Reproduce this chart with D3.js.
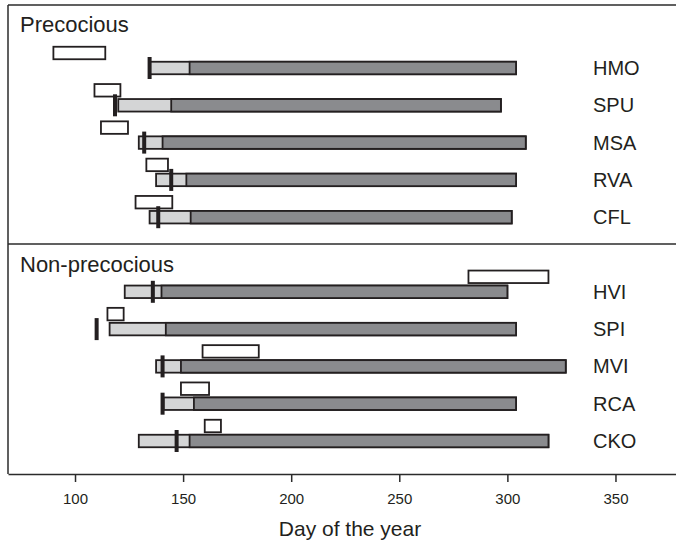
<!DOCTYPE html>
<html>
<head>
<meta charset="utf-8">
<script src="https://cdn.jsdelivr.net/npm/d3@7"></script>
<style>
  body { margin:0; background:#fff; }
  text { font-family: "Liberation Sans", Arial, sans-serif; fill:#231f20; }
</style>
</head>
<body>
<div id="vis-container"></div>
<script>
//data (day of the year)
let species    = ["HMO","SPU","MSA","RVA","CFL","HVI","SPI","MVI","RCA","CKO"];
let groups     = ["Precocious","Non-precocious"];
let slot       = [0,1,2,3,4,6,7,8,9,10];   //row index, one empty row between groups
let boxStart   = [90, 109, 112, 133, 128, 282, 115, 159, 149, 160];
let boxEnd     = [114, 121, 124.5, 143, 145, 319, 122.5, 185, 162, 167.5];
let lightStart = [134.5, 120, 129.5, 137.5, 134.5, 123, 116, 137.5, 141, 129.5];
let darkStart  = [153, 144.5, 140.5, 151.5, 153.5, 140, 142, 149, 155, 153];
let endDay     = [304, 297, 308.5, 304, 302, 300, 304, 327, 304, 319];
let tickDay    = [134.5, 118.5, 132, 144.5, 138.5, 136, 110, 140.5, 140.5, 147];
let xTicks     = [100,150,200,250,300,350];

let width = 676, height = 544;

let svg = d3.select("#vis-container")
  .append("svg")
  .attr("width", width)
  .attr("height", height);

//scales
let x = d3.scaleLinear()
  .domain([69, 378])
  .range([8, 676]);

let y = d3.scaleLinear()
  .domain([0, 10])
  .range([68, 441]);

let barH = 12.5;

let data = species.map((s,i)=>({
  name:s, slot:slot[i], b0:boxStart[i], b1:boxEnd[i],
  l:lightStart[i], d:darkStart[i], e:endDay[i], t:tickDay[i]
}));

//frame lines
let frame = svg.append("g")
  .attr("stroke", "#2b2b2b")
  .attr("stroke-width", 1.5);

frame.append("line").attr("x1",8).attr("x2",width).attr("y1",5).attr("y2",5);
frame.append("line").attr("x1",8).attr("x2",width).attr("y1",244).attr("y2",244);
frame.append("line").attr("x1",8).attr("x2",8).attr("y1",5).attr("y2",474);

//group titles
svg.selectAll(".group-label")
  .data(groups)
  .enter()
  .append("text")
  .attr("class","group-label")
  .attr("x", 20)
  .attr("y", (d,i)=>{return i==0 ? 32 : 272;})
  .attr("font-size","22px")
  .text(d=>d);

let rows = svg.selectAll(".row")
  .data(data)
  .enter()
  .append("g")
  .attr("class","row")
  .attr("transform", d=>`translate(0,${y(d.slot)})`);

//white boxes above bars
rows.append("rect")
  .attr("x", d=>x(d.b0))
  .attr("y", -15 - barH/2)
  .attr("width", d=>x(d.b1)-x(d.b0))
  .attr("height", barH)
  .attr("fill","#fff")
  .attr("stroke","#231f20")
  .attr("stroke-width",1.8);

//light part (whole bar)
rows.append("rect")
  .attr("x", d=>x(d.l))
  .attr("y", -barH/2)
  .attr("width", d=>x(d.e)-x(d.l))
  .attr("height", barH)
  .attr("fill","#d4d5d6")
  .attr("stroke","#231f20")
  .attr("stroke-width",1.8);

//dark part
rows.append("rect")
  .attr("x", d=>x(d.d))
  .attr("y", -barH/2)
  .attr("width", d=>x(d.e)-x(d.d))
  .attr("height", barH)
  .attr("fill","#8a8b8e")
  .attr("stroke","#231f20")
  .attr("stroke-width",1.8);

//thick black marker
rows.append("rect")
  .attr("x", d=>x(d.t)-2)
  .attr("y", -11)
  .attr("width", 4)
  .attr("height", 22)
  .attr("fill","#231f20");

//species labels
rows.append("text")
  .attr("x", 593)
  .attr("y", 7)
  .attr("font-size","20px")
  .text(d=>d.name);

//x axis
let xAxis = d3.axisBottom(x)
  .tickValues(xTicks)
  .tickSize(8)
  .tickSizeOuter(0)
  .tickPadding(11);

let xAxisGroup = svg.append("g")
  .attr("transform","translate(0,474)")
  .call(xAxis);

xAxisGroup.select(".domain").attr("stroke","#2b2b2b").attr("stroke-width",1.5);
xAxisGroup.selectAll(".tick line").attr("stroke","#2b2b2b").attr("stroke-width",1.5);
xAxisGroup.selectAll(".tick text")
  .attr("font-size","15px")
  .attr("font-family","Liberation Sans, Arial, sans-serif")
  .attr("fill","#231f20");

//label bottom axis
svg.append("text")
  .attr("x", 350)
  .attr("y", 536)
  .attr("text-anchor","middle")
  .attr("font-size","21px")
  .text("Day of the year");
</script>
</body>
</html>
